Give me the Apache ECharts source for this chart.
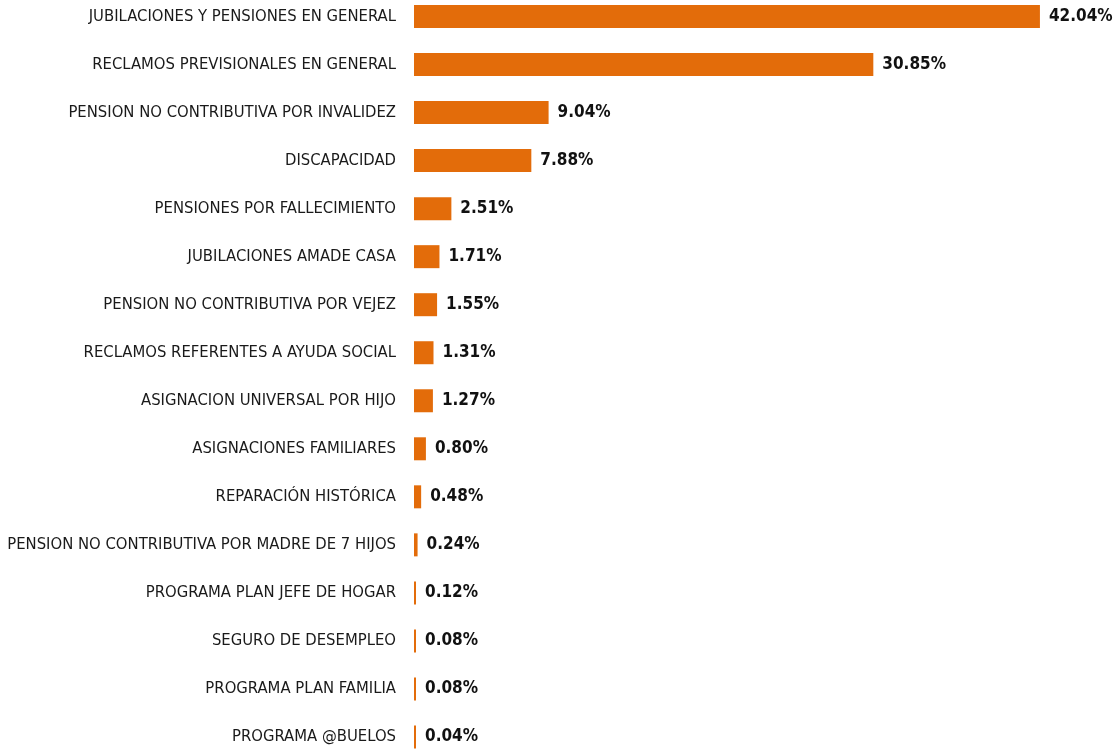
<!DOCTYPE html>
<html>
<head>
<meta charset="utf-8">
<script src="https://cdn.jsdelivr.net/npm/echarts@6/dist/echarts.min.js"></script>
<style>
html,body{margin:0;padding:0;background:#fff;}
#chart{width:1120px;height:749px;}
</style>
</head>
<body>
<div id="chart"></div>
<script>
const categories = [
  "JUBILACIONES Y PENSIONES EN GENERAL",
  "RECLAMOS PREVISIONALES EN GENERAL",
  "PENSION NO CONTRIBUTIVA POR INVALIDEZ",
  "DISCAPACIDAD",
  "PENSIONES POR FALLECIMIENTO",
  "JUBILACIONES AMADE CASA",
  "PENSION NO CONTRIBUTIVA POR VEJEZ",
  "RECLAMOS REFERENTES A AYUDA SOCIAL",
  "ASIGNACION UNIVERSAL POR HIJO",
  "ASIGNACIONES FAMILIARES",
  "REPARACIÓN HISTÓRICA",
  "PENSION NO CONTRIBUTIVA POR MADRE DE 7 HIJOS",
  "PROGRAMA PLAN JEFE DE HOGAR",
  "SEGURO DE DESEMPLEO",
  "PROGRAMA PLAN FAMILIA",
  "PROGRAMA @BUELOS"
];
const values = [42.04, 30.85, 9.04, 7.88, 2.51, 1.71, 1.55, 1.31, 1.27, 0.80, 0.48, 0.24, 0.12, 0.08, 0.08, 0.04];

const font = '"DejaVu Sans Condensed", "Liberation Sans Narrow", sans-serif';
const chart = echarts.init(document.getElementById('chart'));
chart.setOption({
  animation: false,
  grid: {left: 414, right: 36, top: -7.5, bottom: -12, containLabel: false, outerBoundsMode: 'none'},
  xAxis: {type: 'value', min: 0, max: 45, show: false},
  yAxis: {
    type: 'category', data: categories, inverse: true,
    axisLine: {show: false}, axisTick: {show: false},
    axisLabel: {margin: 18, fontFamily: font, fontSize: 16.5, color: '#1a1a1a'}
  },
  series: [{
    type: 'bar', data: values, barWidth: 23, barMinHeight: 2,
    itemStyle: {color: '#E36C0A'},
    label: {
      show: true, position: 'right', distance: 9,
      fontFamily: font, fontSize: 17, fontWeight: 'bold', color: '#111',
      formatter: p => p.value.toFixed(2) + '%'
    }
  }]
});
</script>
</body>
</html>
